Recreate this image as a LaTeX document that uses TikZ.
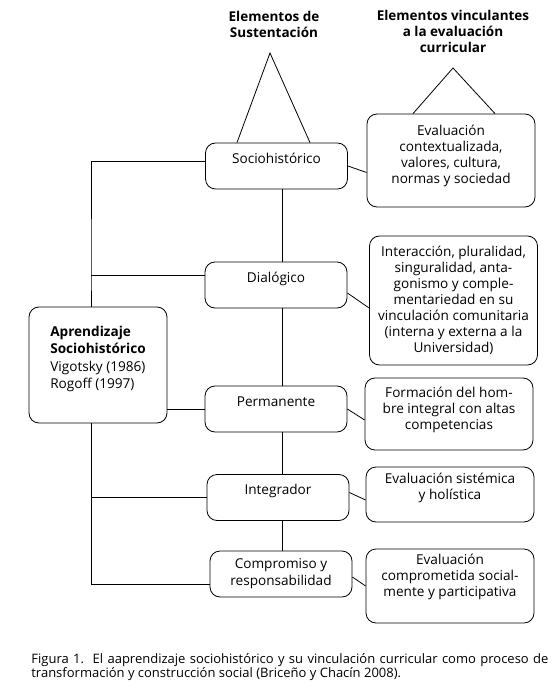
\documentclass[tikz,border=0pt]{standalone}
\usepackage{fontspec}
\setmainfont{Open Sans}
\usetikzlibrary{positioning}
\begin{document}
\begin{tikzpicture}[x=1pt,y=-1pt,line width=0.8pt,
    caja/.style={draw,rounded corners=10pt,inner sep=0pt,align=center,font=\fontsize{13.6}{16}\selectfont},
    medio/.style={caja,minimum width=142pt,minimum height=46pt,font=\fontsize{13.6}{17}\selectfont},
    una/.style={text height=9pt,text depth=14.5pt},
    nota/.style={caja,minimum width=168pt},
    titulo/.style={align=center,inner sep=0pt,font=\bfseries\fontsize{13.5}{16}\selectfont}]
\useasboundingbox (0,0) rectangle (559,684);
% encabezados
\node[titulo] (tit1) at (274,24) {Elementos de\\Sustentación};
\node[titulo] (tit2) at (453,31) {Elementos vinculantes\\a la evaluación\\curricular};
% elementos de sustentacion
\node[medio,una] (socio) at (276.5,166) {Sociohistórico};
\node[medio,una] (dial) at (276,285) {Dialógico};
\node[medio,una] (perm) at (276,409) {Permanente};
\node[medio,una] (integ) at (278,497.5) {Integrador};
\node[medio] (compr) at (281,574) {Compromiso y\\responsabilidad};
% elementos vinculantes
\node[nota,minimum height=93pt,text depth=12.4pt] (ctx) at (451,160.5) {Evaluación\\contextualizada,\\valores, cultura,\\normas y sociedad};
\node[nota,minimum height=129pt] (inter) at (453.5,300.5) {Interacción, pluralidad,\\singuralidad, anta-\\gonismo y comple-\\mentariedad en su\\vinculación comunitaria\\(interna y externa a la\\Universidad)};
\node[nota,minimum height=72pt,text depth=11.4pt] (form) at (449,414) {Formación del hom-\\bre integral con altas\\competencias};
\node[nota,minimum height=55pt,text depth=17.4pt] (sist) at (450,494.5) {Evaluación sistémica\\y holística};
\node[nota,minimum height=74pt,text depth=21.4pt] (compro) at (450,586) {Evaluación\\comprometida social-\\mente y participativa};
% aprendizaje
\node[caja,align=left,minimum width=138pt,minimum height=116pt,text depth=15.5pt,font=\fontsize{13.6}{17.3}\selectfont] (aprend) at (98,365)
  {\textbf{Aprendizaje}\\\textbf{Sociohistórico}\\Vigotsky (1986)\\Rogoff (1997)};
% triangulos
\coordinate (cima1) at (270,53);
\coordinate (cima2) at (453,68);
\draw ([xshift=-39.5pt]socio.north) -- (cima1) -- ([xshift=33.5pt]socio.north);
\draw ([xshift=-38pt]ctx.north) -- (cima2) -- ([xshift=44pt]ctx.north);
% eje central
\coordinate (spine) at (282,0);
\foreach \a/\b in {socio/dial,dial/perm,perm/integ,integ/compr}
  \draw (\a.south -| spine) -- (\b.north -| spine);
% rama izquierda
\coordinate (r1) at (91,161);
\coordinate (r2) at (91,275);
\coordinate (r4) at (91,497);
\coordinate (r5) at (91,584);
\draw (r1 -| socio.west) -- (r1) -- (r2) -- (aprend.north -| r1);
\draw (r2) -- (r2 -| dial.west);
\draw (aprend.south -| r1) -- (r5) -- (r5 -| compr.west);
\draw (r4) -- (r4 -| integ.west);
\draw (aprend.east |- perm.west) -- (perm.west);
% vinculos
\draw (socio.east) -- ([yshift=-12pt]ctx.west);
\draw ([yshift=-8pt]dial.east) -- ([yshift=-7.5pt]inter.west);
\draw (perm.east) -- ([yshift=-6pt]form.west);
\draw ([yshift=5pt]integ.east) -- ([yshift=-5.5pt]sist.west);
\draw ([yshift=-3pt]compr.east) -- (compro.west);
% leyenda
\node[anchor=north west,inner sep=0pt,text width=517pt,align=justify,font=\fontsize{13}{14}\selectfont] (pie) at (31,653)
  {Figura 1.\ \ El aaprendizaje sociohistórico y su vinculación curricular como proceso de\linebreak
   transformación y construcción social (Briceño y Chacín 2008).};
\end{tikzpicture}
\end{document}
